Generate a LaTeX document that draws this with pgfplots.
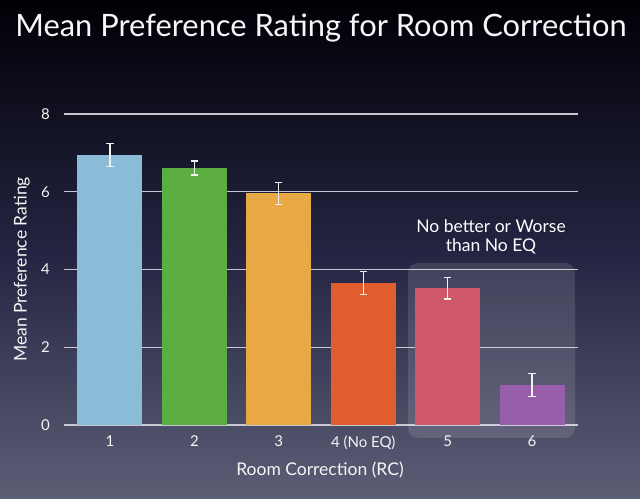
\documentclass[border=0pt]{standalone}
\usepackage{fontspec}
\setmainfont{Lato}
\usepackage{pgfplots}
\pgfplotsset{compat=1.18}
\definecolor{bgtop}{RGB}{0,0,6}
\definecolor{bgmid}{RGB}{36,36,66}
\definecolor{bgbot}{RGB}{92,94,118}
\definecolor{c1}{RGB}{138,188,216}
\definecolor{c2}{RGB}{92,174,64}
\definecolor{c3}{RGB}{232,168,68}
\definecolor{c4}{RGB}{224,94,46}
\definecolor{c5}{RGB}{200,66,86}
\definecolor{c6}{RGB}{140,72,160}
\definecolor{gridc}{RGB}{200,200,212}
\begin{document}
\begin{tikzpicture}[x=0.6pt,y=0.6pt]
\path[use as bounding box] (0,0) rectangle (640,499);
\shade[top color=bgtop, bottom color=bgbot, middle color=bgmid] (0,0) rectangle (640,499);
\node[text=white!94!gray, font=\fontsize{18.5}{22}\selectfont, anchor=center] at (321,471) {Mean Preference Rating for Room Correction};
\begin{axis}[
  at={(38.4pt,44.4pt)}, anchor=south west,
  scale only axis, width=308.4pt, height=186.6pt,
  xmin=0.456, xmax=6.544, ymin=0, ymax=8,
  ytick={0,2,4,6,8}, xtick={1,2,3,4,5,6},
  xticklabels={1,2,3,4 (No EQ),5,6},
  axis line style={draw=none},
  major tick length=0pt,
  ymajorgrids, major grid style={gridc, line width=0.7pt},
  /pgf/number format/assume math mode=true,
  ticklabel style={text=white!92!gray, font=\fontsize{9}{10}\selectfont},
  yticklabel style={xshift=-5pt},
  xticklabel style={yshift=-3pt},
  xlabel={Room Correction (RC)}, ylabel={Mean Preference Rating},
  label style={text=white!92!gray, font=\fontsize{10.5}{12}\selectfont},
  xlabel style={at={(axis description cs:0.498,-0.145)}, anchor=center},
  ylabel style={at={(axis description cs:-0.082,0.5)}, anchor=center, rotate=0},
  ybar, bar width=0.77, bar shift=0pt,
  every axis plot/.append style={draw=none,
    error bars/y dir=both, error bars/y explicit,
    error bars/error bar style={white!88!gray, line width=0.7pt},
    error bars/error mark options={rotate=90, mark size=2.2pt, white!88!gray, line width=0.7pt}},
]
\addplot[fill=c1] coordinates {(1,6.94) +- (0,0.30)};
\addplot[fill=c2] coordinates {(2,6.61) +- (0,0.18)};
\addplot[fill=c3] coordinates {(3,5.96) +- (0,0.28)};
\addplot[fill=c4] coordinates {(4,3.65) +- (0,0.30)};
\addplot[fill=c5] coordinates {(5,3.52) +- (0,0.28)};
\addplot[fill=c6] coordinates {(6,1.03) +- (0,0.29)};
\end{axis}
\fill[white, opacity=0.12, rounded corners=6] (408,236) rectangle (575,61);
\node[text=white, font=\fontsize{10.5}{12}\selectfont, align=center] at (491,262) {No better or Worse\\[-1pt]than No EQ};
\end{tikzpicture}
\end{document}
